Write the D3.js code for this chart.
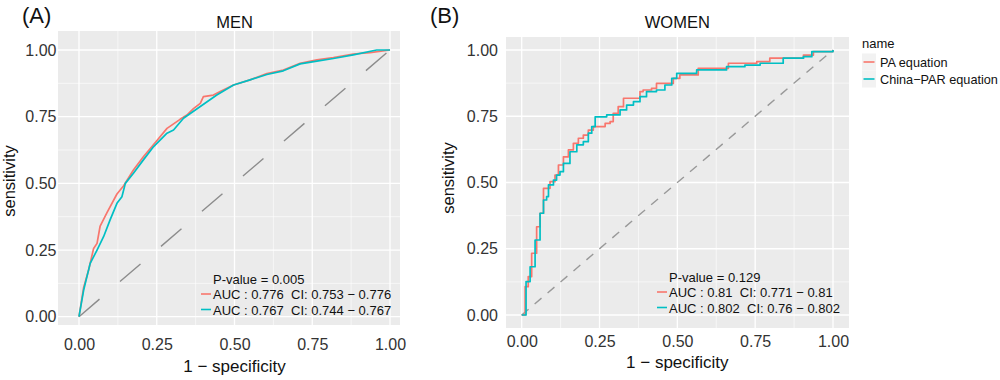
<!DOCTYPE html>
<html><head><meta charset="utf-8">
<script src="https://cdn.jsdelivr.net/npm/d3@7"></script>
<style>body{margin:0;background:#fff}svg{font-family:"Liberation Sans",Arial,sans-serif}text{white-space:pre}</style>
</head><body><svg id="c" width="1000" height="380"></svg>
<script>
const ticks = [0, 0.25, 0.5, 0.75, 1];
const minorTicks = [0.125, 0.375, 0.625, 0.875];
const seriesNames = ["PA equation", "China\u2212PAR equation"];
const colors = ["#F8766D", "#00BFC4"];

const menPA_x = [0,0.015,0.031,0.047,0.058,0.068,0.09,0.122,0.143,0.175,0.207,0.25,0.283,0.325,0.347,0.368,0.39,0.40,0.432,0.454,0.497,0.55,0.604,0.657,0.711,0.765,0.818,0.882,0.936,1];
const menPA_y = [0,0.11,0.175,0.256,0.275,0.34,0.39,0.46,0.49,0.55,0.60,0.66,0.706,0.74,0.756,0.78,0.80,0.825,0.831,0.844,0.869,0.888,0.912,0.925,0.95,0.963,0.972,0.985,0.99,1];
const menCP_x = [0,0.015,0.036,0.058,0.079,0.10,0.122,0.138,0.149,0.175,0.207,0.24,0.283,0.304,0.336,0.39,0.443,0.497,0.55,0.604,0.657,0.711,0.765,0.818,0.882,0.957,1];
const menCP_y = [0,0.10,0.20,0.25,0.30,0.363,0.425,0.45,0.50,0.538,0.588,0.638,0.688,0.70,0.744,0.788,0.831,0.869,0.888,0.908,0.922,0.948,0.958,0.968,0.982,1,1];

const womenPA_x = [0,0.011,0.021,0.032,0.048,0.059,0.07,0.086,0.091,0.107,0.118,0.134,0.15,0.166,0.182,0.198,0.214,0.23,0.252,0.268,0.284,0.294,0.31,0.327,0.369,0.38,0.39,0.417,0.433,0.466,0.487,0.508,0.562,0.567,0.626,0.664,0.755,0.797,0.905,0.937,1];
const womenPA_y = [0,0.107,0.145,0.233,0.333,0.384,0.478,0.478,0.503,0.528,0.566,0.597,0.623,0.648,0.667,0.679,0.698,0.711,0.711,0.723,0.73,0.761,0.786,0.818,0.818,0.843,0.849,0.855,0.874,0.874,0.893,0.906,0.906,0.931,0.931,0.95,0.956,0.969,0.981,0.994,1];
const womenCP_x = [0,0.014,0.027,0.043,0.059,0.07,0.08,0.086,0.102,0.112,0.123,0.134,0.155,0.177,0.198,0.214,0.225,0.236,0.273,0.294,0.316,0.337,0.359,0.38,0.401,0.433,0.46,0.482,0.498,0.562,0.616,0.658,0.717,0.766,0.84,0.905,0.932,1];
const womenCP_y = [0,0.126,0.182,0.283,0.384,0.434,0.447,0.491,0.509,0.528,0.541,0.572,0.616,0.642,0.654,0.686,0.711,0.748,0.755,0.755,0.774,0.792,0.805,0.824,0.843,0.849,0.868,0.893,0.912,0.925,0.925,0.937,0.943,0.95,0.969,0.975,0.994,1];

const panelLabels = ["(A)", "(B)"];
const panelTitles = ["MEN", "WOMEN"];
const pValues = ["P-value = 0.005", "P-value = 0.129"];
const aucLabelsMen = ["AUC : 0.776  CI: 0.753 \u2212 0.776", "AUC : 0.767  CI: 0.744 \u2212 0.767"];
const aucLabelsWomen = ["AUC : 0.81  CI: 0.771 \u2212 0.81", "AUC : 0.802  CI: 0.76 \u2212 0.802"];

const svg = d3.select("#c");

function panel(o) {
  const g = svg.append("g");
  const x = d3.scaleLinear().domain([0,1]).range(o.xr);
  const y = d3.scaleLinear().domain([0,1]).range(o.yr);
  g.append("rect").attr("x",o.px).attr("y",o.py).attr("width",o.pw).attr("height",o.ph).attr("fill","#EBEBEB");
  const gl = g.append("g");
  minorTicks.forEach(t=>{
    gl.append("line").attr("x1",x(t)).attr("x2",x(t)).attr("y1",o.py).attr("y2",o.py+o.ph).attr("stroke","#fff").attr("stroke-width",0.6);
    gl.append("line").attr("y1",y(t)).attr("y2",y(t)).attr("x1",o.px).attr("x2",o.px+o.pw).attr("stroke","#fff").attr("stroke-width",0.6);
  });
  ticks.forEach(t=>{
    gl.append("line").attr("x1",x(t)).attr("x2",x(t)).attr("y1",o.py).attr("y2",o.py+o.ph).attr("stroke","#fff").attr("stroke-width",1.3);
    gl.append("line").attr("y1",y(t)).attr("y2",y(t)).attr("x1",o.px).attr("x2",o.px+o.pw).attr("stroke","#fff").attr("stroke-width",1.3);
  });
  g.append("line").attr("x1",x(0)).attr("y1",y(0)).attr("x2",x(1)).attr("y2",y(1))
    .attr("stroke",o.diagColor).attr("stroke-width",1.4).attr("stroke-dasharray",o.dash);
  const line = d3.line().x(d=>x(d[0])).y(d=>y(d[1])).curve(o.curve);
  o.series.forEach((s,i)=>{
    const pts = s[0].map((v,k)=>[v,s[1][k]]);
    g.append("path").attr("d",line(pts)).attr("fill","none").attr("stroke",colors[i]).attr("stroke-width",1.7).attr("stroke-linejoin","round");
  });
  const ax = g.append("g").attr("transform",`translate(0,${o.py+o.ph})`)
    .call(d3.axisBottom(x).tickValues(ticks).tickFormat(d3.format(".2f")).tickSize(0).tickPadding(o.xpad));
  const ay = g.append("g").attr("transform",`translate(${o.px},0)`)
    .call(d3.axisLeft(y).tickValues(ticks).tickFormat(d3.format(".2f")).tickSize(0).tickPadding(o.ypad));
  [ax,ay].forEach(a=>{a.select(".domain").remove(); a.selectAll("text").attr("font-size",16).attr("fill","#333").attr("font-family","Liberation Sans, Arial, sans-serif");});
  g.append("text").attr("x",o.lx).attr("y",23).attr("font-size",22).attr("fill","#111").text(o.label);
  g.append("text").attr("x",(o.xr[0]+o.xr[1])/2).attr("y",28).attr("text-anchor","middle").attr("font-size",16.5).attr("fill","#111").text(o.title);
  g.append("text").attr("x",(o.xr[0]+o.xr[1])/2).attr("y",o.xty).attr("text-anchor","middle").attr("font-size",17).attr("fill","#111").text("1 \u2212 specificity");
  g.append("text").attr("transform",`translate(${o.yty},${o.ytc}) rotate(-90)`).attr("text-anchor","middle").attr("font-size",16.5).attr("fill","#111").text("sensitivity");
  g.append("text").attr("x",o.ax).attr("y",o.ay).attr("font-size",13).attr("fill","#111").text(o.p);
  o.auc.forEach((t,i)=>{
    g.append("text").attr("x",o.ax).attr("y",o.ay+15+i*15.5).attr("font-size",13).attr("fill","#111").text(t);
    g.append("line").attr("x1",o.ax-12).attr("x2",o.ax-2).attr("y1",o.ay+10+i*15.5).attr("y2",o.ay+10+i*15.5).attr("stroke",colors[i]).attr("stroke-width",1.6);
  });
}

panel({px:58,py:31,pw:342,ph:294,xr:[79,390],yr:[316.7,50],diagColor:"#8c8c8c",dash:"27,27",curve:d3.curveLinear,
  series:[[menPA_x,menPA_y],[menCP_x,menCP_y]],xpad:14,ypad:1.5,label:panelLabels[0],lx:22,title:panelTitles[0],
  xty:372,yty:15,ytc:181,ax:213,ay:284,p:pValues[0],auc:aucLabelsMen});
panel({px:506,py:37,pw:343,ph:291,xr:[521.7,833],yr:[315,50],diagColor:"#999",dash:"9,8",curve:d3.curveStepAfter,
  series:[[womenPA_x,womenPA_y],[womenCP_x,womenCP_y]],xpad:7.5,ypad:8,label:panelLabels[1],lx:430,title:panelTitles[1],
  xty:368,yty:454,ytc:178,ax:669,ay:282,p:pValues[1],auc:aucLabelsWomen});

const lg = svg.append("g");
lg.append("text").attr("x",862).attr("y",48).attr("font-size",13).attr("fill","#111").text("name");
seriesNames.forEach((n,i)=>{
  const cy = 62 + i*17;
  lg.append("rect").attr("x",862).attr("y",cy-8.5).attr("width",14).attr("height",17).attr("fill","#F2F2F2");
  lg.append("line").attr("x1",863.5).attr("x2",874.5).attr("y1",cy).attr("y2",cy).attr("stroke",colors[i]).attr("stroke-width",1.6);
  lg.append("text").attr("x",880).attr("y",cy+4.5).attr("font-size",12.7).attr("fill","#111").text(n);
});
</script></body></html>
